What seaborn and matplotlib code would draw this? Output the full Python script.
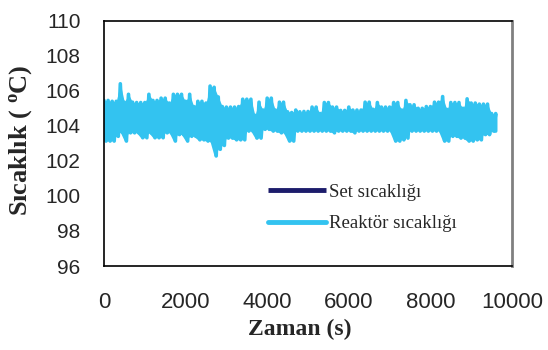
import numpy as np
import pandas as pd
import matplotlib
matplotlib.use("Agg")
import matplotlib.pyplot as plt
import seaborn as sns

# ---- data ----
t_start, t_end, t_step = 0, 9600, 100
set_temp = 104.0

# upper swing of reactor temperature every 100 s (0..9600)
reactor_high = [
    105.45, 105.45, 105.40, 105.40, 106.40, 105.35, 105.80, 105.35, 105.33, 105.33,
    105.33, 105.80, 105.45, 105.45, 105.58, 105.58, 105.30, 105.80, 105.80, 105.80,
    105.40, 105.80, 105.10, 105.40, 105.40, 105.30, 106.27, 106.20, 105.65, 105.10,
    105.07, 105.07, 105.07, 105.10, 105.52, 105.52, 105.52, 104.60, 105.35, 104.90,
    105.58, 105.58, 104.90, 105.35, 105.35, 104.80, 104.76, 104.90, 104.80, 104.82,
    104.82, 105.07, 105.07, 104.70, 105.33, 105.33, 105.07, 105.07, 104.88, 104.88,
    105.07, 104.90, 104.90, 104.90, 105.35, 105.35, 104.94, 105.33, 105.07, 105.07,
    105.07, 105.33, 105.33, 104.90, 105.45, 105.20, 105.20, 105.00, 105.00, 105.10,
    105.10, 105.35, 105.35, 105.67, 104.94, 105.33, 105.33, 105.33, 105.00, 105.54,
    105.30, 105.30, 105.24, 105.24, 105.24, 104.70, 104.70,
]
# lower swing of reactor temperature every 100 s
reactor_low = [
    103.13, 103.13, 103.13, 103.40, 103.63, 103.13, 103.60, 103.60, 103.60, 103.32,
    103.32, 103.60, 103.32, 103.32, 103.32, 103.60, 103.60, 103.13, 103.50, 103.50,
    103.13, 103.40, 103.40, 103.20, 103.20, 103.13, 103.10, 102.28, 102.66, 102.88,
    103.30, 103.30, 103.20, 103.20, 103.20, 103.70, 103.70, 103.30, 103.30, 103.80,
    103.80, 103.70, 103.70, 103.60, 103.60, 103.13, 103.13, 103.70, 103.70, 103.70,
    103.70, 103.70, 103.70, 103.70, 103.70, 103.70, 103.60, 103.70, 103.70, 103.70,
    103.70, 103.60, 103.70, 103.70, 103.70, 103.70, 103.70, 103.70, 103.70, 103.70,
    103.70, 103.13, 103.13, 103.20, 103.30, 103.70, 103.70, 103.70, 103.70, 103.70,
    103.70, 103.70, 103.70, 103.13, 103.13, 103.40, 103.40, 103.30, 103.30, 103.13,
    103.13, 103.20, 103.20, 103.50, 103.50, 103.70, 103.70,
]

x_ticks = [0, 2000, 4000, 6000, 8000, 10000]
y_ticks = [96, 98, 100, 102, 104, 106, 108, 110]
series_names = ["Set sıcaklığı", "Reaktör sıcaklığı"]
x_label = "Zaman (s)"
y_label = r"Sıcaklık ( $\mathregular{^o}$C)"

# ---- build tables ----
t_hi = np.arange(t_start, t_end + 1, t_step)
t_lo = np.minimum(t_hi + t_step / 2, t_end)
times = np.empty(t_hi.size * 2)
vals = np.empty(t_hi.size * 2)
times[0::2] = t_hi
times[1::2] = t_lo
vals[0::2] = reactor_high
vals[1::2] = reactor_low
reactor_df = pd.DataFrame({"t": times, "T": vals})
set_df = pd.DataFrame({"t": [t_start, t_end], "T": [set_temp, set_temp]})

# ---- style ----
sns.set_theme(style="white")
plt.rcParams["font.family"] = ["Liberation Sans", "DejaVu Sans"]
plt.rcParams["mathtext.fontset"] = "custom"
plt.rcParams["mathtext.rm"] = "Liberation Serif:bold"

navy = "#1c1c6b"
cyan = "#33c3f0"

fig = plt.figure(figsize=(5.48, 3.5), dpi=100)
ax = fig.add_axes([104 / 548, 1 - 266 / 350, (512 - 104) / 548, (266 - 20.7) / 350])

sns.lineplot(data=set_df, x="t", y="T", ax=ax, color=navy, lw=3.0,
             label=series_names[0], solid_capstyle="butt")
ax.fill_between(t_hi, reactor_low, reactor_high, color=cyan, lw=0, zorder=2.5)
sns.lineplot(data=reactor_df, x="t", y="T", ax=ax, color=cyan, lw=2.6,
             label=series_names[1], sort=False, estimator=None)

ax.set_xlim(0, 10000)
ax.set_ylim(96, 110)
ax.set_xticks(x_ticks)
ax.set_yticks(y_ticks)
ax.set_xticklabels([str(v) for v in x_ticks], fontsize=16)
ax.set_yticklabels([str(v) for v in y_ticks], fontsize=15)
ax.tick_params(axis="x", direction="out", length=6, width=1, color="black", pad=13)
ax.tick_params(axis="y", direction="out", length=8, width=1, color="black", pad=9)

for side in ["left", "bottom", "top"]:
    ax.spines[side].set_color("black")
    ax.spines[side].set_linewidth(1.2)
ax.spines["right"].set_color("#808080")
ax.spines["right"].set_linewidth(2)

ax.set_xlabel(x_label, fontsize=17, fontweight="bold", family="Liberation Serif")
ax.xaxis.set_label_coords(300 / 548, 1 - 329 / 350, transform=fig.transFigure)
ax.xaxis.label.set_va("center")
ax.set_ylabel(y_label, fontsize=19, fontweight="bold", family="Liberation Serif")
ax.yaxis.set_label_coords(21 / 548, 1 - 140 / 350, transform=fig.transFigure)
ax.yaxis.label.set_va("center")

leg = ax.legend(loc="center left", bbox_to_anchor=(268 / 548, 1 - 208 / 350),
                bbox_transform=fig.transFigure, frameon=False,
                prop={"family": "Liberation Serif", "size": 13.5},
                handlelength=3.1, handletextpad=0.15, labelspacing=0.75,
                borderaxespad=0, borderpad=0)
for line in leg.get_lines():
    line.set_linewidth(3.5)

fig.savefig("out.png", dpi=100)
